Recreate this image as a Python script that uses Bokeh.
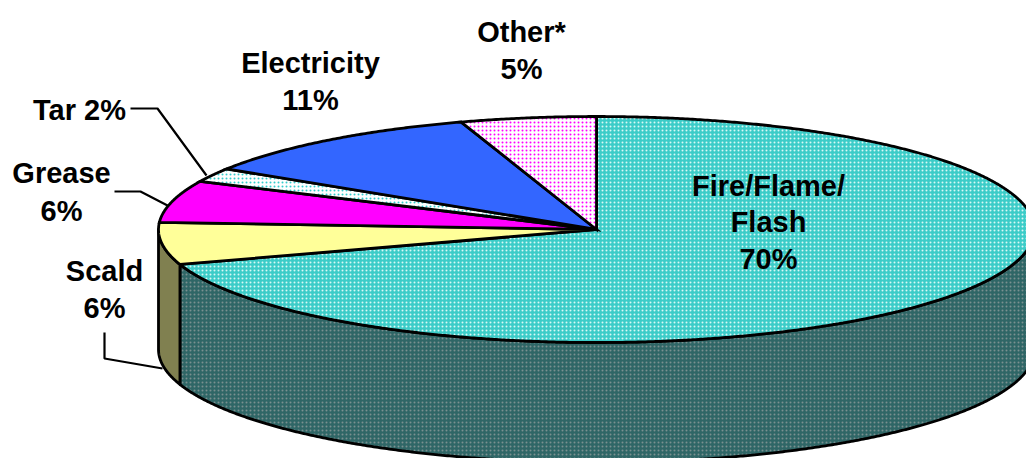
import numpy as np
from bokeh.embed import file_html
from bokeh.models import ColumnDataSource, Range1d
from bokeh.plotting import figure
from bokeh.resources import INLINE
from bokeh.core.properties import value

# Share of cases per cause, clockwise from twelve o'clock
causes = ["Fire/Flame/Flash", "Scald", "Grease", "Tar", "Electricity", "Other*"]
shares = [70, 6, 6, 2, 11, 5]
top_colors = ["#3CCCC8", "#FFFF99", "#FF00FF", "#FFFFFF", "#3366FF", "#FFFFFF"]
hatch_colors = ["#D8F8F6", None, None, "#33CCCC", None, "#FF00FF"]
side_colors = ["#2F6666", "#808050"]
side_hatch = ["#7A9090", None]

# Label text lines and their anchors
label_text = ["Other*", "5%", "Electricity", "11%", "Tar 2%", "Grease", "6%", "Scald", "6%",
              "Fire/Flame/", "Flash", "70%"]
label_x = [521, 521, 310, 310, 79, 61, 61, 104, 104, 768, 768, 768]
label_y = [31, 68, 62, 99, 109, 172, 210, 270, 307, 185, 221, 258]

# Leader lines from the outside labels to their slices
leader_x = [[130, 157, 206], [114, 140, 167], [104, 104, 162]]
leader_y = [[108, 108, 175], [191, 191, 205], [332, 358, 368]]

# Ellipse of the pie's top face and the height of its wall
cx, cy, rx, ry, depth = 596, 229, 438, 113, 120


def rim(start, stop, drop=0.0):
    """Points along the rim between two clockwise angles in degrees."""
    count = max(int(abs(stop - start) * 3), 2)
    t = np.radians(np.linspace(start, stop, count))
    return cx + rx * np.sin(t), cy - ry * np.cos(t) + drop


p = figure(width=1026, height=458, output_backend="svg", toolbar_location=None,
           x_range=Range1d(0, 1026), y_range=Range1d(458, 0),
           min_border=0, outline_line_color=None)
p.axis.visible = False
p.grid.visible = False

edges = np.cumsum([0] + shares) * 3.6

# Wall segments: only the front half of the rim can be seen
for i, (lo, hi) in enumerate([(90, edges[1]), (edges[1], 270)]):
    ux, uy = rim(lo, hi)
    dx, dy = rim(hi, lo, depth)
    kw = {}
    if side_hatch[i]:
        kw = dict(hatch_pattern="dot", hatch_color=side_hatch[i], hatch_scale=4, hatch_weight=2)
    p.patch(np.r_[ux, dx], np.r_[uy, dy], fill_color=side_colors[i],
            line_color="black", line_width=2.8, line_join="round", **kw)

# Top face slices
for i in range(len(shares)):
    ux, uy = rim(edges[i], edges[i + 1])
    kw = {}
    if hatch_colors[i]:
        kw = dict(hatch_pattern="dot", hatch_color=hatch_colors[i], hatch_scale=4, hatch_weight=2)
    p.patch(np.r_[cx, ux], np.r_[cy, uy], fill_color=top_colors[i],
            line_color="black", line_width=2.8, line_join="miter", **kw)

p.multi_line(leader_x, leader_y, line_color="black", line_width=2.2)

labels = ColumnDataSource(dict(x=label_x, y=label_y, text=label_text))
p.text("x", "y", text="text", source=labels, text_align="center", text_baseline="middle",
       text_font=value("Liberation Sans"), text_font_style="bold",
       text_font_size="29px", text_color="black")

open("out.html", "w").write(file_html(p, INLINE))
